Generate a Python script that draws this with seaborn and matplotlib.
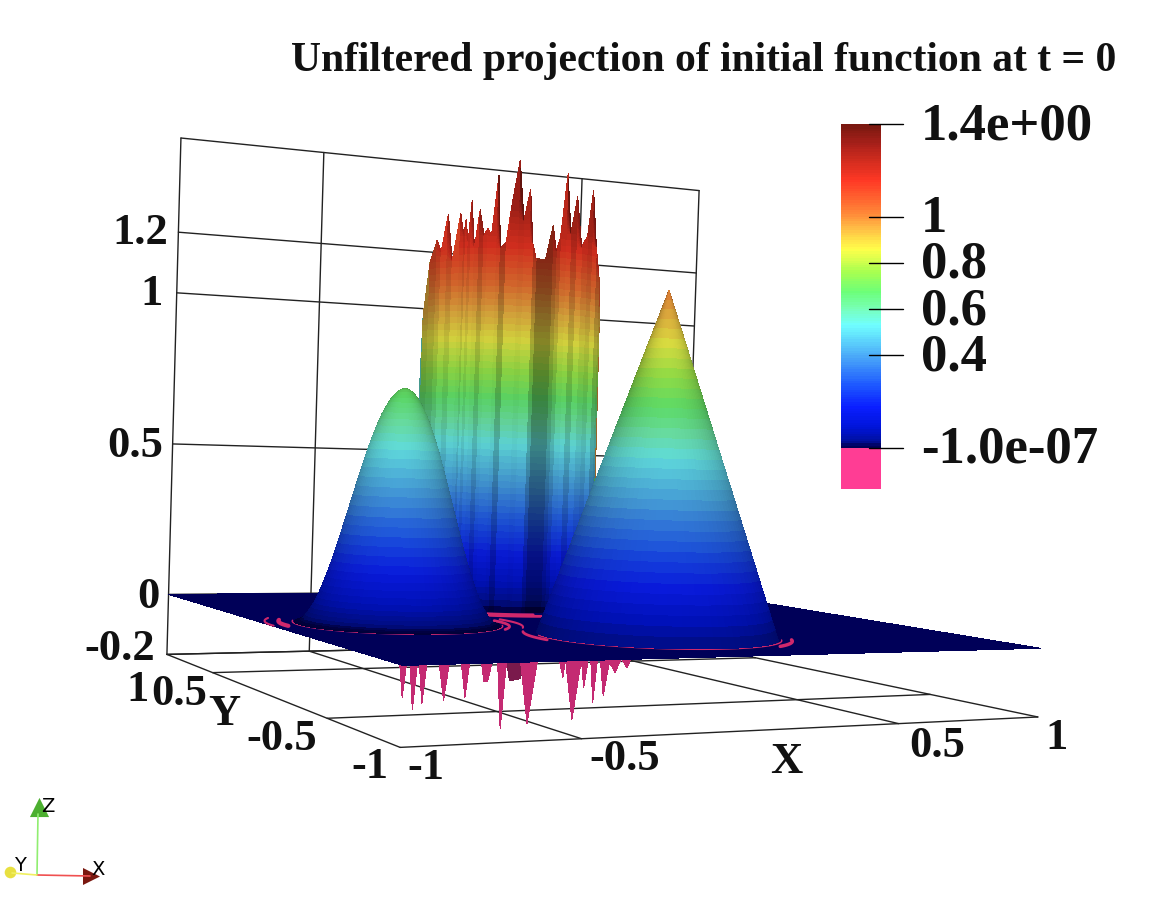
import numpy as np
import matplotlib
matplotlib.use("Agg")
import matplotlib.pyplot as plt
import seaborn as sns
from matplotlib.colors import LightSource, LinearSegmentedColormap, Normalize
from matplotlib.patches import Rectangle

# heights
hump_center = (-0.605, -0.025)
hump_radii = [0, .008, .016, .024, .032, .04, .048, .056, .064, .072, .08, .088, .096, .104, .112, .12, .128, .136, .144, .152,
              .16, .168, .176, .184, .192, .20, .208, .216, .224, .232, .24, .248, .256, .264, .272, .28, .288, .296, .304]
hump_heights = [.694, .692, .688, .682, .673, .663, .65, .635, .62, .601, .581, .559, .536, .512, .486, .459, .431, .403, .376, .346,
                .317, .29, .262, .234, .207, .181, .157, .134, .112, .092, .073, .056, .043, .03, .019, .01, .005, .001, 0]

cone_center = (0.02, -0.475)
cone_radii = [0, .01, .02, .03, .04, .05, .06, .07, .08, .09, .10, .11, .12, .13, .14, .15, .16, .17,
              .18, .19, .20, .21, .22, .23, .24, .25, .26, .27, .28, .29, .30, .31, .32, .33, .34, .35]
cone_heights = [1.0, .971, .943, .914, .886, .857, .829, .8, .771, .743, .714, .686, .657, .629, .6, .571, .543, .514,
                .486, .457, .429, .4, .371, .343, .314, .286, .257, .229, .2, .171, .143, .114, .086, .057, .029, 0]

# slotted cylinder: front wall, position across the wall and top height of each fold
wall_center = (0.0, 0.526)
wall_radius = 0.3
wall_pos = [-1.0, -.95, -.88, -.80, -.75, -.68, -.62, -.54, -.50, -.48, -.45, -.42, -.38, -.33, -.28, -.24, -.20, -.14, -.10, -.04,
            0, .08, .14, .20, .24, .28, .38, .45, .49, .53, .59, .64, .70, .76, .82, .87, .92, .96, .98, 1.0]
wall_top = [.55, .95, 1.12, 1.19, 1.15, 1.27, 1.12, 1.27, 1.20, 1.25, 1.18, 1.31, 1.16, 1.28, 1.20, 1.22, 1.20, 1.39, 1.16, 1.18,
            1.28, 1.44, 1.25, 1.35, 1.18, 1.13, 1.13, 1.24, 1.16, 1.20, 1.41, 1.22, 1.34, 1.18, 1.22, 1.37, 1.19, 1.10, 1.00, .30]
wall_tone = [.6, .62, .66, .72, .8, .74, .82, .8, .74, .82, .76, .82, .8, .7, .8, .82, .82, .8, .66, .82,
             .82, .8, .82, .82, .66, .52, .52, .62, .7, .8, .82, .7, .82, .76, .72, .8, .66, .62, .6, .6]

# undershoot spikes below the plane
dip_x = [-1, -.995, -.986, -.977, -.968, -.958, -.948, -.943, -.933, -.923, -.89, -.875, -.862, -.83, -.817, -.807, -.775, -.766, -.756, -.745, -.73, -.717,
         -.705, -.666, -.642, -.618, -.556, -.544, -.538, -.514, -.492, -.483, -.472, -.465, -.455, -.445, -.437, -.425, -.41, -.392, -.375, -.358, -.345]
dip_z = [0, 0, -.082, 0, 0, -.113, 0, 0, -.10, 0, 0, -.093, 0, 0, -.088, 0, 0, -.05, -.05, 0, 0, -.17,
         0, 0, -.16, 0, 0, -.045, 0, -.155, 0, -.074, 0, 0, -.113, 0, 0, -.096, -.01, -.037, 0, -.026, 0]
dark_dip_x = [-.705, -.695, -.665, -.655]
dark_dip_z = [0, -.05, -.045, 0]

# pink fringes lying on the plane, as arcs round the three bumps
fringe_cx = [-.605, -.605, -.605, -.605, -.605, .02, .02, .02, 0, 0]
fringe_cy = [-.025, -.025, -.025, -.025, -.025, -.475, -.475, -.475, .526, .526]
fringe_r = [.31, .35, .39, .33, .37, .36, .39, .39, .42, .37]
fringe_from = [-205, -205, -212, -42, -30, -190, -58, -205, -150, -140]
fringe_to = [-20, -176, -178, 5, 10, -30, -28, -172, -85, -100]
fringe_lw = [1.0, 3.0, 1.5, 2.0, 1.5, 1.0, 2.5, 2.0, 2.0, 2.0]

x_grid = [-1, -.5, .5, 1]
y_grid = [-1, -.5, .5, 1]
z_grid = [-.2, 0, .5, 1, 1.2]
z_min, z_top = -.2, 1.51

bar_ticks = [1.4, 1, .8, .6, .4, 0]
bar_labels = ["1.4e+00", "1", "0.8", "0.6", "0.4", "-1.0e-07"]
color_stops = [0, .02, .08, .17, .27, .39, .53, .60, .675, .76, .86, .95, 1.03, 1.16, 1.25, 1.32, 1.4]
color_list = ["#000058", "#000f9c", "#0014d8", "#0a1eff", "#1e5aff", "#4aa8f8", "#70ffff", "#78ffb8", "#6cff78", "#a8ff50",
              "#ffff4a", "#ffbe46", "#ff8036", "#ff3825", "#d02c1e", "#a8201a", "#7a1810"]

sns.set_theme(style="white")
plt.rcParams["font.family"] = ["Liberation Serif", "DejaVu Sans"]
plt.rcParams["font.weight"] = "bold"

field_cmap = LinearSegmentedColormap.from_list("field", [(s / 1.4, c) for s, c in zip(color_stops, color_list)], N=256)
norm = Normalize(0, 1.4)
W, H = 1168, 920

fig = plt.figure(figsize=(W / 100, H / 100), dpi=100, facecolor="white")

# camera was fitted against the box corners of the picture
ax = fig.add_axes([-146.8 / W, -292.3 / H, 1400 / W, 1400 / H], projection="3d", computed_zorder=False)
ax.set_xlim(-.1697 - 1, -.1697 + 1)
ax.set_ylim(-.2759 - 1, -.2759 + 1)
ax.set_zlim(.4044 - .8803, .4044 + .8803)
ax.set_box_aspect((1, 1, .8803), zoom=.7853)
ax.view_init(1.6427, -117.7531, -1.8884)
ax.set_proj_type("persp", focal_length=.2617)
ax.set_axis_off()

# box lines
line = dict(color="#222222", lw=1, zorder=1)
for x in x_grid:
    ax.plot([x, x], [-1, 1], [z_min, z_min], **line)
    ax.plot([x, x], [1, 1], [z_min, z_top], **line)
for y in y_grid:
    ax.plot([-1, 1], [y, y], [z_min, z_min], **line)
for z in z_grid + [z_top]:
    ax.plot([-1, 1], [1, 1], [z, z], **line)

surf = dict(rstride=1, cstride=1, linewidth=0, edgecolor="none", antialiased=False)

# undershoots, then the plane over them
for xs, zs, col in [(dark_dip_x, dark_dip_z, "#7a1a4c"), (dip_x, dip_z, "#c42a72")]:
    dx = np.array(xs)
    dz = np.array(zs)
    ax.plot_surface(np.vstack([dx, dx]), np.full((2, len(dx)), -.97), np.vstack([np.zeros(len(dx)), dz]),
                    color=col, shade=False, zorder=2, **surf)
px, py = np.meshgrid([-1, 1], [-1, 1])
ax.plot_surface(px, py, np.zeros((2, 2)), color=field_cmap(0.0), shade=False, zorder=3, **surf)

# cylinder wall, rows are horizontal bands
az = np.radians(-117.7531)
side = np.array([np.cos(az + np.pi / 2), np.sin(az + np.pi / 2)])
front = np.array([np.cos(az), np.sin(az)])
u = np.array(wall_pos)
bulge = np.sqrt(1 - u ** 2)
levels = np.linspace(0, 1.46, 74)[:, None]
wall_z = np.minimum(levels, np.array(wall_top)[None, :])
wall_x = wall_center[0] + wall_radius * (u * side[0] + bulge * front[0])
wall_y = wall_center[1] + wall_radius * (u * side[1] + bulge * front[1])
wall_colors = field_cmap(norm(wall_z))
wall_colors[..., :3] *= np.array(wall_tone)[None, :, None]
ax.plot_surface(np.tile(wall_x, (len(levels), 1)), np.tile(wall_y, (len(levels), 1)), wall_z,
                facecolors=wall_colors, shade=False, zorder=4, **surf)

# fringes
for cx, cy, r, a0, a1, lw in zip(fringe_cx, fringe_cy, fringe_r, fringe_from, fringe_to, fringe_lw):
    t = np.radians(np.linspace(a0, a1, 40))
    ax.plot(cx + r * np.cos(t), cy + r * np.sin(t), np.zeros(40), color="#d0286c", lw=lw, zorder=5)

# hump and cone as rings
light = LightSource(azdeg=90 + 117.75, altdeg=12)
theta = np.radians(np.linspace(-180, 180, 97))
for center, radii, heights, order in [(hump_center, hump_radii, hump_heights, 6), (cone_center, cone_radii, cone_heights, 7)]:
    rr, tt = np.meshgrid(radii, theta)
    zz = np.tile(heights, (len(theta), 1))
    ring_colors = field_cmap(norm(zz))
    ring_colors[..., :3] *= .86
    ax.plot_surface(center[0] + rr * np.cos(tt), center[1] + rr * np.sin(tt), zz,
                    facecolors=ring_colors, shade=True, lightsource=light, zorder=order, **surf)

# colour bar
cax = fig.add_axes([841 / W, 1 - 449 / H, 40 / W, 324 / H])
sns.heatmap(np.linspace(1.4, 0, 140)[:, None], ax=cax, cmap=field_cmap, vmin=0, vmax=1.4, cbar=False,
            xticklabels=False, yticklabels=False)

# everything placed in picture pixels
over = fig.add_axes([0, 0, 1, 1], facecolor="none")
over.set_xlim(0, W)
over.set_ylim(H, 0)
over.axis("off")
over.add_patch(Rectangle((841, 449), 40, 41, color="#ff3d94", lw=0))
for v, lab in zip(bar_ticks, bar_labels):
    y = 449 - v * 324 / 1.4
    over.plot([869, 903], [y, y], color="black", lw=1)
    over.text(921, y + 1, lab, fontsize=38, va="center", ha="left", color="#111111")

over.text(704, 61, "Unfiltered projection of initial function at t = 0", fontsize=30, ha="center", va="center", color="#111111")

labels = [("1.2", 168, 233), ("1", 163, 294), ("0.5", 163, 446), ("0", 160, 597), ("-0.2", 155, 649),
          ("1", 149, 690), ("0.5", 207, 694), ("Y", 240, 714), ("-0.5", 317, 739), ("-1", 388, 767),
          ("-1", 444, 768), ("-0.5", 660, 759), ("X", 802, 762), ("0.5", 965, 746), ("1", 1068, 738)]
for s, x, y in labels:
    over.text(x, y, s, fontsize=32, ha="right", va="center", color="#111111")

# orientation triad
over.plot([37, 38], [876, 815], color="#90ee70", lw=1.2)
over.plot([37, 90], [876, 877], color="#f05050", lw=1.2)
over.plot([37, 12], [876, 874], color="#f0f060", lw=1.2)
over.scatter([39], [808], marker="^", s=190, color="#4caf30", lw=0)
over.scatter([91], [877], marker=">", s=150, color="#7a1810", lw=0)
over.scatter([10], [873], marker="o", s=70, color="#e8e040", lw=0)
for s, x, y in [("Z", 48, 807), ("Y", 20, 866), ("X", 98, 870)]:
    over.text(x, y, s, fontsize=14, family="DejaVu Sans", weight="normal", ha="center", va="center", color="black")

fig.savefig("out.png", dpi=100)
